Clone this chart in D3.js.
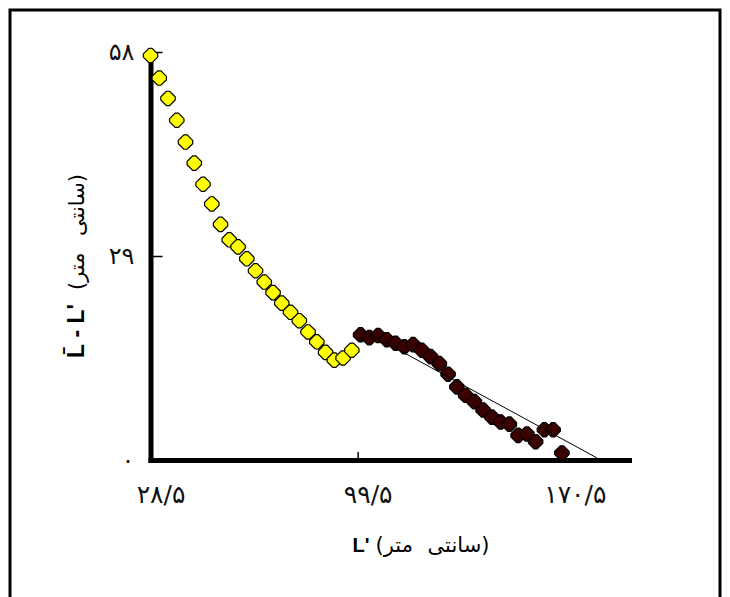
<!DOCTYPE html>
<html>
<head>
<meta charset="utf-8">
<script src="https://cdn.jsdelivr.net/npm/d3@7"></script>
<style>
  body { margin: 0; background: #fff; }
  svg { display: block; }
</style>
</head>
<body>
<svg id="chart" width="730" height="597"></svg>
<script>
// Deviation of mean length from length class, first (declining) segment
const lengthA = [28.5, 31.5, 34.5, 37.5, 40.5, 43.5, 46.5, 49.5, 52.5, 55.5, 58.5, 61.5,
                 64.5, 67.5, 70.5, 73.5, 76.5, 79.5, 82.5, 85.5, 88.5, 91.5, 94.5, 97.5];
const devA    = [57.5, 54.3, 51.4, 48.3, 45.2, 42.2, 39.2, 36.4, 33.5, 31.3, 30.3, 28.6,
                 26.9, 25.3, 23.8, 22.3, 21.0, 19.8, 18.2, 16.8, 15.3, 14.2, 14.5, 15.6];

// Second segment, used for the fitted line
const lengthB = [100.5, 103.5, 106.5, 109.5, 112.5, 115.5, 118.5, 121.5, 124.5, 127.5, 130.5, 133.5,
                 136.5, 139.5, 142.5, 145.5, 148.5, 151.5, 154.5, 157.5, 160.5, 163.5, 166.5, 169.5];
const devB    = [17.8, 17.4, 17.7, 17.1, 16.6, 16.1, 16.4, 15.6, 14.7, 13.7, 12.2, 10.4,
                 9.2, 8.3, 7.1, 6.1, 5.4, 5.1, 3.5, 3.7, 2.6, 4.3, 4.3, 1.0];

// Fitted straight line over the second segment
const trendX = [100.5, 181.5];
const trendY = [18.6, 0.3];

const xTicks = [28.5, 99.5, 170.5];
const yTicks = [0, 29, 58];

const unitText = "(سانتی متر)";

// Persian digits, with "/" as the decimal mark
const persian = v => String(v)
  .replace(/\d/g, d => "۰۱۲۳۴۵۶۷۸۹"[+d])
  .replace(".", "/");

const svg = d3.select("#chart");

// page frame
svg.append("rect")
  .attr("x", 10).attr("y", 10)
  .attr("width", 710).attr("height", 620)
  .attr("fill", "none")
  .attr("stroke", "#000")
  .attr("stroke-width", 3);

const x = d3.scaleLinear().domain([28.5, 192.5]).range([150.5, 629]);
const y = d3.scaleLinear().domain([0, 58]).range([460, 52]);

const digitFont = "'DejaVu Sans', sans-serif";

// x axis
const gx = svg.append("g")
  .attr("transform", `translate(0,${y(0)})`)
  .call(d3.axisBottom(x).tickValues(xTicks).tickSizeInner(-8).tickSizeOuter(0).tickFormat(persian));
gx.attr("font-family", null).attr("font-size", null);
gx.select(".domain").attr("stroke-width", 5).attr("stroke-linecap", "square");
gx.selectAll(".tick line").attr("stroke-width", 1.5);
gx.selectAll(".tick text")
  .attr("text-anchor", "middle")
  .attr("y", 43).attr("dy", 0).attr("dx", 10)
  .attr("font-family", digitFont)
  .attr("font-size", 25)
  .attr("letter-spacing", 4)
  .attr("fill", "#111");

// y axis
const gy = svg.append("g")
  .attr("transform", `translate(${x(28.5)},0)`)
  .call(d3.axisLeft(y).tickValues(yTicks).tickSizeInner(-12).tickSizeOuter(0).tickPadding(16).tickFormat(persian));
gy.attr("font-family", null).attr("font-size", null);
gy.select(".domain").attr("stroke-width", 5).attr("stroke-linecap", "square");
gy.selectAll(".tick line").attr("stroke-width", 1.5);
gy.selectAll(".tick text")
  .attr("font-family", digitFont)
  .attr("font-size", 24)
  .attr("letter-spacing", 3)
  .attr("fill", "#111");

// blunt diamond marker
const bluntDiamond = {
  draw(ctx, size) {
    const s = Math.sqrt(size) / 14;
    const a = 1.6 * s, b = 7.2 * s;
    ctx.moveTo(-a, -b); ctx.lineTo(a, -b);
    ctx.lineTo(b, -a); ctx.lineTo(b, a);
    ctx.lineTo(a, b); ctx.lineTo(-a, b);
    ctx.lineTo(-b, a); ctx.lineTo(-b, -a);
    ctx.closePath();
  }
};
const marker = d3.symbol().type(bluntDiamond).size(196);

const ptsA = lengthA.map((v, i) => [v, devA[i]]);
const ptsB = lengthB.map((v, i) => [v, devB[i]]);

svg.append("g").selectAll("path").data(ptsA).join("path")
  .attr("d", marker)
  .attr("transform", d => `translate(${x(d[0])},${y(d[1])})`)
  .attr("fill", "#ffff00")
  .attr("stroke", "#000")
  .attr("stroke-width", 1.2);

svg.append("g").selectAll("path").data(ptsB).join("path")
  .attr("d", marker)
  .attr("transform", d => `translate(${x(d[0])},${y(d[1])})`)
  .attr("fill", "#3a0000")
  .attr("stroke", "#000")
  .attr("stroke-width", 1.2);

// fitted line
svg.append("path")
  .datum(trendX.map((v, i) => [v, trendY[i]]))
  .attr("d", d3.line().x(d => x(d[0])).y(d => y(d[1])))
  .attr("fill", "none")
  .attr("stroke", "#000")
  .attr("stroke-width", 1);

// axis titles
const xt = svg.append("text")
  .attr("x", 421).attr("y", 552)
  .attr("text-anchor", "middle")
  .attr("fill", "#000");
xt.append("tspan")
  .attr("font-family", "'Liberation Sans', Arial, sans-serif")
  .attr("font-weight", "bold").attr("font-size", 20)
  .text("L'");
xt.append("tspan")
  .attr("dx", 6)
  .attr("font-family", digitFont).attr("font-size", 21)
  .attr("word-spacing", 8)
  .text(unitText);

const yt = svg.append("text")
  .attr("transform", "translate(84,266) rotate(-90)")
  .attr("text-anchor", "middle")
  .attr("fill", "#000");
yt.append("tspan")
  .attr("font-family", "'Liberation Sans', Arial, sans-serif")
  .attr("font-weight", "bold").attr("font-size", 23)
  .text("L\u0304 - L'");
yt.append("tspan")
  .attr("dx", 14)
  .attr("font-family", digitFont).attr("font-size", 21)
  .attr("word-spacing", 10)
  .text(unitText);
</script>
</body>
</html>
